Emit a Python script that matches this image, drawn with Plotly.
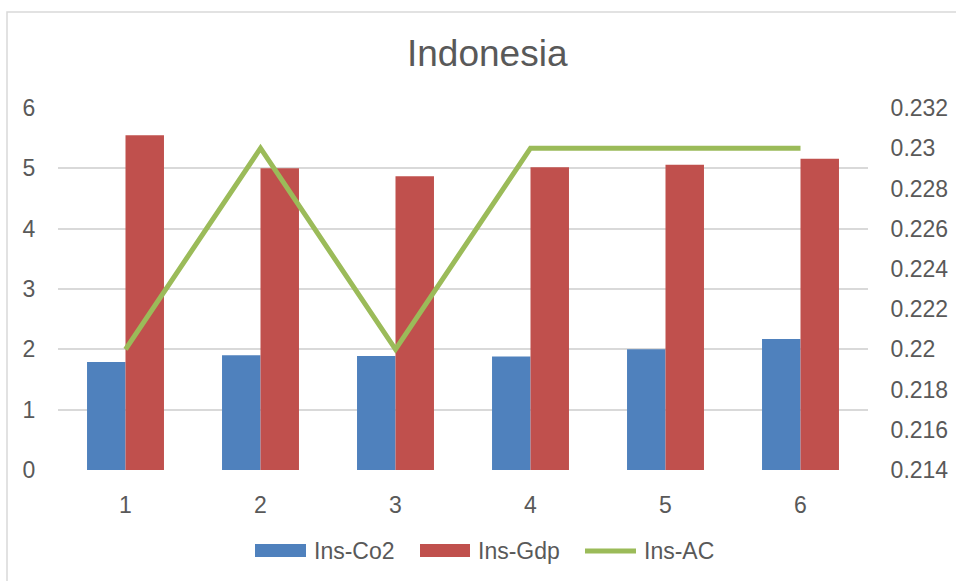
import plotly.graph_objects as go

# Series data
categories = ["1", "2", "3", "4", "5", "6"]
ins_co2 = [1.79, 1.90, 1.89, 1.88, 2.00, 2.17]
ins_gdp = [5.55, 5.00, 4.87, 5.02, 5.06, 5.16]
ins_ac = [0.22, 0.23, 0.22, 0.23, 0.23, 0.23]

left_ticks = [0, 1, 2, 3, 4, 5, 6]
right_tickvals = [0.214, 0.216, 0.218, 0.22, 0.222, 0.224, 0.226, 0.228, 0.23, 0.232]
right_ticktext = ["0.214", "0.216", "0.218", "0.22", "0.222", "0.224", "0.226", "0.228", "0.23", "0.232"]

BLUE = "#4F81BD"
RED = "#C0504D"
GREEN = "#9BBB59"
TEXT = "#595959"
GRID = "#D9D9D9"
FONT = "Liberation Sans, Arial, sans-serif"

W, H = 956, 581
ML, MR, MT, MB = 58, 88, 108, 111
PW, PH = W - ML - MR, H - MT - MB


def px(x):
    return (x - ML) / PW


def py(y):
    return (H - MB - y) / PH


fig = go.Figure()
fig.add_trace(go.Bar(x=categories, y=ins_co2, name="Ins-Co2", marker=dict(color=BLUE, line=dict(width=0))))
fig.add_trace(go.Bar(x=categories, y=ins_gdp, name="Ins-Gdp", marker=dict(color=RED, line=dict(width=0))))
fig.add_trace(go.Scatter(x=categories, y=ins_ac, name="Ins-AC", mode="lines",
                         line=dict(color=GREEN, width=5), yaxis="y2"))

# Hand-drawn legend along the bottom
legend_items = [
    ("Ins-Co2", BLUE, "bar", 255, 306, 312),
    ("Ins-Gdp", RED, "bar", 420, 470, 476),
    ("Ins-AC", GREEN, "line", 583, 638, 642),
]
shapes = [
    # outer chart frame
    dict(type="rect", xref="paper", yref="paper", x0=px(7), x1=px(W + 20), y0=py(12), y1=py(H + 20),
         line=dict(color=GRID, width=1.5), fillcolor="rgba(0,0,0,0)", layer="below"),
]
annotations = [
    dict(text="Indonesia", xref="paper", yref="paper", x=px(487.5), y=py(53), xanchor="center", yanchor="middle",
         showarrow=False, font=dict(size=37, color=TEXT, family=FONT)),
]
for label, color, kind, x0, x1, tx in legend_items:
    if kind == "bar":
        shapes.append(dict(type="rect", xref="paper", yref="paper", x0=px(x0), x1=px(x1), y0=py(557), y1=py(544),
                           line=dict(width=0), fillcolor=color))
    else:
        shapes.append(dict(type="line", xref="paper", yref="paper", x0=px(x0 + 2), x1=px(x1 - 2), y0=py(551), y1=py(551),
                           line=dict(color=color, width=5)))
    annotations.append(dict(text=label, xref="paper", yref="paper", x=px(tx), y=py(551), xanchor="left",
                            yanchor="middle", showarrow=False, font=dict(size=23, color=TEXT, family=FONT)))

fig.update_layout(
    width=W, height=H,
    margin=dict(l=ML, r=MR, t=MT, b=MB, pad=0, autoexpand=False),
    paper_bgcolor="white", plot_bgcolor="white",
    barmode="group", bargap=0.43, bargroupgap=0,
    showlegend=False,
    font=dict(family=FONT, size=23, color=TEXT),
    xaxis=dict(type="category", showgrid=False, showline=False, zeroline=False, automargin=False,
               ticks="outside", ticklen=14, tickcolor="rgba(0,0,0,0)",
               tickfont=dict(size=23, color=TEXT)),
    yaxis=dict(range=[0, 6], tickvals=left_ticks, showgrid=True, gridcolor=GRID, gridwidth=1.5,
               zeroline=False, showline=False, automargin=False,
               ticks="outside", ticklen=17, tickcolor="rgba(0,0,0,0)",
               tickfont=dict(size=23, color=TEXT)),
    yaxis2=dict(range=[0.214, 0.232], tickvals=right_tickvals, ticktext=right_ticktext, overlaying="y",
                side="right", showgrid=False, zeroline=False, showline=False, automargin=False,
                ticks="outside", ticklen=17, tickcolor="rgba(0,0,0,0)",
                tickfont=dict(size=23, color=TEXT)),
    shapes=shapes,
    annotations=annotations,
)

fig.write_html("out.html")
